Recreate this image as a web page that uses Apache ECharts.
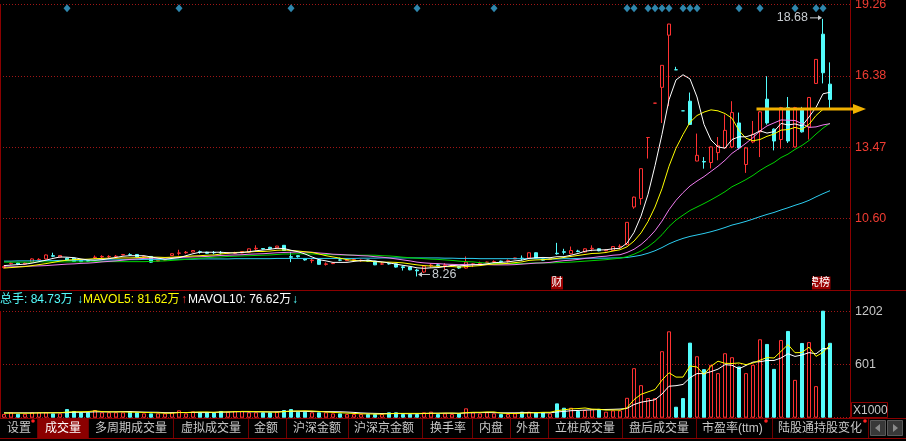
<!DOCTYPE html>
<html><head><meta charset="utf-8">
<script src="https://cdn.jsdelivr.net/npm/echarts@6/dist/echarts.min.js"></script>
<style>html,body{margin:0;padding:0;background:#000;}#c{width:906px;height:441px;}</style>
</head><body><div id="c"></div>
<script>
// ---------- data ----------
// [open, close, low, high]
const ohlc = [
[8.62,8.66,8.58,8.70],[8.78,8.80,8.74,8.84],[8.80,8.76,8.72,8.82],[8.76,8.80,8.74,8.84],[8.84,8.97,8.82,8.99],
[8.94,8.95,8.90,9.00],[8.97,9.13,8.95,9.15],[9.10,9.08,9.04,9.22],[9.04,9.11,9.03,9.12],[9.00,8.93,8.90,9.02],
[9.00,8.87,8.85,9.01],[8.91,8.86,8.84,8.93],[8.90,8.88,8.85,8.93],[9.02,9.04,8.97,9.11],[9.05,9.07,9.00,9.12],
[9.06,9.07,9.01,9.12],[9.06,9.08,9.02,9.13],[9.13,9.15,9.12,9.17],[9.14,9.13,9.10,9.20],[9.15,9.05,9.03,9.16],
[9.05,9.07,9.02,9.10],[9.07,8.84,8.82,9.08],[8.88,8.91,8.86,8.93],[8.92,8.95,8.90,8.97],[9.11,9.18,9.10,9.19],
[9.20,9.21,9.11,9.34],[9.22,9.24,9.18,9.29],[9.25,9.31,9.24,9.32],[9.26,9.25,9.18,9.31],[9.24,9.20,9.18,9.26],
[9.23,9.22,9.16,9.29],[9.23,9.21,9.16,9.29],[9.20,9.22,9.18,9.24],[9.20,9.22,9.17,9.26],[9.21,9.27,9.20,9.28],
[9.24,9.38,9.23,9.39],[9.38,9.40,9.31,9.52],[9.39,9.37,9.35,9.40],[9.44,9.38,9.36,9.46],[9.42,9.49,9.40,9.50],
[9.52,9.31,9.30,9.53],[9.06,9.04,8.84,9.25],[9.10,9.06,9.02,9.12],[8.98,8.93,8.90,9.00],[8.90,8.92,8.80,9.00],
[8.93,8.75,8.74,8.94],[8.75,8.77,8.70,8.83],[8.78,8.80,8.76,8.82],[8.93,8.92,8.88,9.02],[8.90,8.93,8.88,8.95],
[8.92,8.94,8.88,8.98],[8.90,8.92,8.85,8.95],[8.92,8.88,8.86,8.93],[8.88,8.73,8.72,8.89],[8.76,8.77,8.73,8.84],
[8.78,8.77,8.74,8.81],[8.77,8.64,8.62,8.78],[8.65,8.62,8.50,8.70],[8.64,8.53,8.51,8.65],[8.52,8.49,8.26,8.57],
[8.44,8.68,8.40,8.70],[8.70,8.72,8.62,8.78],[8.73,8.70,8.66,8.77],[8.70,8.72,8.53,8.80],[8.68,8.71,8.65,8.73],
[8.66,8.60,8.57,8.68],[8.60,8.84,8.58,9.07],[8.75,8.77,8.64,8.80],[8.78,8.80,8.74,8.86],[8.83,8.84,8.81,8.86],
[8.84,8.86,8.77,8.91],[8.88,8.86,8.84,8.90],[8.88,8.90,8.82,8.95],[8.97,9.01,8.96,9.02],[9.00,8.98,8.91,9.11],
[9.01,9.22,9.00,9.23],[9.22,9.01,9.00,9.23],[8.97,8.92,8.90,8.98],[8.95,8.97,8.93,9.00],[9.20,9.18,9.14,9.62],
[9.26,9.24,9.15,9.38],[9.18,9.31,9.16,9.47],[9.29,9.27,9.24,9.34],[9.25,9.38,9.23,9.40],[9.38,9.40,9.28,9.52],
[9.38,9.30,9.28,9.40],[9.30,9.33,9.28,9.36],[9.31,9.47,9.29,9.49],[9.46,9.48,9.39,9.56],[9.55,10.45,9.52,10.45],
[11.07,11.47,11.00,11.49],[11.41,12.62,11.16,12.62],[13.88,13.88,13.03,13.88],[15.27,15.27,15.27,15.27],[15.91,16.80,14.47,16.80],
[18.02,18.47,15.15,18.48],[16.62,16.62,16.62,16.74],[14.96,14.96,14.96,14.96],[15.35,14.41,14.40,15.70],[12.93,13.16,12.92,14.04],
[12.91,12.89,12.62,13.09],[12.87,13.50,12.63,13.51],[13.27,13.55,12.96,13.90],[13.46,14.17,13.46,14.81],[13.50,14.89,13.45,15.35],
[14.47,13.46,13.40,14.89],[12.79,13.46,12.45,13.50],[13.70,14.01,13.65,14.55],[14.11,14.92,13.09,14.95],[15.43,14.47,14.40,16.36],
[14.22,13.74,13.36,14.25],[13.80,15.09,13.43,15.12],[15.09,13.74,13.66,15.52],[13.50,15.09,13.48,15.12],[15.05,14.11,14.08,15.12],
[14.31,15.50,13.80,15.52],[16.07,17.04,16.05,17.05],[18.06,16.50,16.07,18.68],[16.04,15.42,15.05,16.92]
];
const volumes = [41,61,45,45,61,61,61,49,49,98,76,61,61,87,61,61,61,61,68,61,49,49,49,49,61,83,49,72,61,61,
61,76,68,76,76,61,61,61,61,68,87,98,68,68,61,61,61,49,49,41,41,41,41,41,41,61,61,41,41,41,
61,68,41,49,41,49,106,61,49,61,49,41,41,49,68,68,61,61,49,162,113,113,76,87,98,100,68,83,83,225,
560,368,222,222,752,977,124,222,849,695,549,598,504,729,684,579,504,598,887,834,552,879,981,428,845,855,357,1210,847];
const ma5 = [8.70,8.72,8.74,8.76,8.80,8.86,8.92,8.99,9.05,9.04,9.02,8.97,8.93,8.92,8.94,8.98,9.03,9.08,9.10,9.10,
9.10,9.05,9.00,8.96,8.99,9.02,9.10,9.18,9.24,9.24,9.24,9.24,9.22,9.21,9.23,9.26,9.30,9.33,9.36,9.40,
9.39,9.32,9.26,9.17,9.05,8.94,8.89,8.83,8.83,8.83,8.87,8.90,8.92,8.88,8.85,8.81,8.76,8.71,8.67,8.61,
8.59,8.61,8.62,8.66,8.71,8.69,8.71,8.73,8.74,8.77,8.82,8.83,8.85,8.89,8.92,8.99,9.02,9.03,9.02,9.06,
9.06,9.12,9.19,9.28,9.32,9.33,9.34,9.38,9.40,9.61,10.04,10.70,11.58,12.74,14.01,15.41,16.21,16.42,16.25,15.52,
14.41,13.78,13.50,13.45,13.80,13.91,13.91,14.00,14.15,14.06,14.12,14.45,14.39,14.43,14.35,14.71,15.10,15.65,15.71];
const ma10 = [8.60,8.62,8.64,8.66,8.70,8.74,8.78,8.83,8.88,8.92,8.94,8.95,8.96,8.98,8.99,9.00,9.00,9.01,9.01,9.02,
9.04,9.04,9.04,9.03,9.04,9.06,9.07,9.09,9.10,9.12,9.13,9.17,9.20,9.23,9.24,9.25,9.27,9.27,9.29,9.32,
9.33,9.31,9.29,9.26,9.23,9.17,9.10,9.05,9.00,8.94,8.91,8.89,8.88,8.86,8.84,8.84,8.83,8.81,8.77,8.73,
8.70,8.68,8.67,8.66,8.66,8.64,8.66,8.68,8.70,8.74,8.76,8.77,8.79,8.82,8.85,8.91,8.93,8.94,8.96,8.99,
9.03,9.07,9.11,9.15,9.19,9.20,9.23,9.29,9.34,9.46,9.69,10.02,10.48,11.07,11.81,12.72,13.45,14.00,14.50,14.77,
14.91,15.00,14.96,14.85,14.66,14.16,13.85,13.75,13.80,13.93,14.02,14.18,14.20,14.29,14.21,14.41,14.77,15.02,15.07];
const ma20 = [8.64,8.65,8.66,8.67,8.68,8.69,8.70,8.72,8.74,8.76,8.77,8.79,8.80,8.82,8.85,8.87,8.89,8.92,8.95,8.97,
8.99,9.00,9.00,9.01,9.02,9.03,9.04,9.05,9.06,9.07,9.09,9.11,9.12,9.13,9.14,9.16,9.17,9.18,9.20,9.22,
9.23,9.24,9.25,9.25,9.24,9.21,9.19,9.16,9.15,9.13,9.12,9.10,9.09,9.06,9.04,9.01,8.97,8.93,8.89,8.84,
8.81,8.79,8.78,8.76,8.75,8.74,8.75,8.75,8.74,8.74,8.73,8.73,8.73,8.74,8.76,8.78,8.80,8.81,8.83,8.87,
8.90,8.92,8.95,8.99,9.02,9.06,9.08,9.12,9.14,9.23,9.36,9.55,9.80,10.11,10.50,10.96,11.34,11.65,11.92,12.12,
12.30,12.51,12.72,12.96,13.24,13.44,13.65,13.88,14.15,14.35,14.47,14.59,14.58,14.57,14.44,14.29,14.31,14.39,14.44];
const ma30 = [8.84,8.84,8.84,8.84,8.84,8.85,8.85,8.85,8.85,8.85,8.85,8.85,8.85,8.86,8.86,8.86,8.86,8.86,8.86,8.86,
8.86,8.87,8.88,8.89,8.91,8.93,8.95,8.98,9.00,9.02,9.04,9.05,9.07,9.08,9.09,9.10,9.11,9.12,9.13,9.15,
9.17,9.17,9.18,9.17,9.17,9.16,9.15,9.14,9.13,9.13,9.12,9.12,9.12,9.12,9.10,9.09,9.07,9.04,9.02,9.00,
8.98,8.96,8.95,8.93,8.91,8.88,8.86,8.85,8.82,8.80,8.79,8.78,8.78,8.78,8.78,8.80,8.81,8.81,8.81,8.82,
8.83,8.84,8.86,8.88,8.90,8.92,8.94,8.97,9.00,9.06,9.16,9.29,9.46,9.68,9.95,10.28,10.54,10.74,10.93,11.07,
11.21,11.36,11.52,11.69,11.89,12.03,12.18,12.35,12.55,12.72,12.87,13.07,13.21,13.40,13.56,13.76,14.02,14.26,14.46];
const ma60 = [8.88,8.88,8.89,8.89,8.89,8.90,8.90,8.90,8.91,8.91,8.91,8.92,8.92,8.92,8.93,8.93,8.93,8.94,8.94,8.94,
8.95,8.95,8.95,8.95,8.96,8.96,8.96,8.96,8.97,8.97,8.97,8.97,8.97,8.98,8.98,8.98,8.98,8.98,8.98,8.99,
8.99,8.99,8.99,8.99,8.99,8.99,8.99,8.99,8.99,8.99,8.99,9.00,9.00,9.00,9.01,9.01,9.01,9.01,9.01,9.01,
9.01,9.01,9.01,9.00,9.00,8.99,8.99,8.99,8.98,8.98,8.98,8.98,8.98,8.98,8.98,8.98,8.98,8.97,8.97,8.97,
8.98,8.98,8.99,9.00,9.00,9.00,9.00,9.01,9.01,9.03,9.07,9.12,9.20,9.30,9.43,9.58,9.70,9.80,9.88,9.94,
10.00,10.07,10.15,10.24,10.34,10.41,10.49,10.58,10.68,10.77,10.85,10.95,11.04,11.14,11.23,11.34,11.48,11.61,11.73];
const mavol5 = [52,52,52,51,51,55,55,55,56,64,67,67,69,77,69,66,66,66,62,62,60,58,55,51,51,58,58,63,65,65,
61,66,65,68,71,71,68,67,64,62,68,75,76,78,76,71,64,60,56,52,48,44,43,41,41,45,49,49,49,49,
49,50,50,52,52,50,57,61,61,65,65,52,48,48,50,53,57,61,61,80,89,100,103,110,97,95,86,87,86,112,
204,264,292,319,425,508,459,459,585,573,488,583,639,615,613,619,600,619,650,680,675,750,827,735,737,798,693,739,823];
const mavol10 = [55,55,55,55,55,55,56,56,56,57,61,61,62,66,66,66,66,68,70,66,63,62,61,57,57,59,58,59,58,58,
60,62,64,67,68,66,67,66,66,67,70,72,72,71,69,69,69,68,67,64,60,54,51,49,47,47,47,46,45,45,
47,50,50,51,51,49,54,56,57,59,57,55,55,55,57,59,55,55,55,65,71,79,82,86,89,92,93,95,98,105,
149,175,189,203,268,356,362,376,452,499,498,521,549,600,593,553,591,629,633,647,647,675,723,693,709,736,722,783,779];
const priceTickLabels = ['10.60','13.47','16.38','19.26'];
const volTickLabels = ['601','1202'];
const signalIndices = [9,25,41,59,70,89,90,92,93,94,95,97,98,99,105,108,113,116,117];
const eventIndex = 79, eventText = '财';
const rankText = '虎榜';
const arrowLevel = 15.03, arrowFromIndex = 108;
const volTitle = [['总手: 84.73万','#54fcfc'],['↓','#54fcfc'],['MAVOL5: 81.62万','#ffff00'],['↑','#ff3232'],['MAVOL10: 76.62万','#ffffff'],['↓','#54fcfc']];
const tabNames = ['设置','成交量','多周期成交量','虚拟成交量','金额','沪深金额','沪深京金额','换手率','内盘','外盘','立桩成交量','盘后成交量','市盈率(ttm)','陆股通持股变化'];

// ---------- layout / style ----------
const RED = '#ff3232', CYAN = '#54fcfc', DRED = '#8b0000', DOT = '#a01616';
const FONT = '"Liberation Sans", "Noto Sans CJK SC", sans-serif';
const priceMin = 7.713, priceStep = 2.887, priceMax = 19.261;
const volStep = 601, volMax = 1202;
const categories = ohlc.map((_, i) => String(i + 1));
const dir = i => { const o = ohlc[i][0], c = ohlc[i][1]; if (c > o) return 1; if (c < o) return -1; return (i > 0 && ohlc[i-1][1] > c) ? -1 : 1; };
const volData = volumes.map((v, i) => dir(i) > 0
  ? { value: v, itemStyle: { color: '#000', borderColor: RED, borderWidth: 1 } }
  : { value: v, itemStyle: { color: CYAN, borderColor: CYAN, borderWidth: 1 } });
const nearestLabel = (arr, v) => { let best = '', d = 1e9; arr.forEach(s => { const dd = Math.abs(parseFloat(s) - v); if (dd < d) { d = dd; best = s; } }); return d < 0.5 ? best : ''; };
const maLine = (name, data, color, xi, yi, z) => ({ name, type: 'line', data, xAxisIndex: xi, yAxisIndex: yi, symbol: 'none', silent: true, z: z || 3,
  lineStyle: { width: 1, color }, itemStyle: { color } });

const chart = echarts.init(document.getElementById('c'));
chart.setOption({
  backgroundColor: '#000',
  animation: false,
  grid: [
    { left: 0, top: 4.5, width: 851, height: 285.5, outerBoundsMode: 'none', containLabel: false },
    { left: 0.5, top: 4.5, width: 833, height: 285.5, outerBoundsMode: 'none', containLabel: false },
    { left: 0, top: 311.4, width: 851, height: 106.3, outerBoundsMode: 'none', containLabel: false },
    { left: 0.5, top: 417.7 - 106.3 * 1.2, width: 833, height: 106.3 * 1.2, outerBoundsMode: 'none', containLabel: false }
  ],
  xAxis: [
    { gridIndex: 0, type: 'value', min: 0, max: 1, show: false },
    { gridIndex: 1, type: 'category', data: categories, boundaryGap: true, show: false },
    { gridIndex: 2, type: 'value', min: 0, max: 1, show: false },
    { gridIndex: 3, type: 'category', data: categories, boundaryGap: true, show: false }
  ],
  yAxis: [
    { gridIndex: 0, type: 'value', position: 'right', min: priceMin, max: priceMax, interval: priceStep,
      axisLine: { show: true, lineStyle: { color: DRED, width: 1 } }, axisTick: { show: false },
      splitLine: { show: true, lineStyle: { color: DOT, type: [1, 2], width: 1 } },
      axisLabel: { show: true, showMinLabel: false, margin: 4, color: '#f03c32', fontSize: 12.5, fontFamily: FONT,
        formatter: v => nearestLabel(priceTickLabels, v) } },
    { gridIndex: 1, type: 'value', min: priceMin, max: priceMax, show: false, splitLine: { show: false } },
    { gridIndex: 2, type: 'value', position: 'right', min: 0, max: volMax, interval: volStep,
      axisLine: { show: true, lineStyle: { color: DRED, width: 1 } }, axisTick: { show: false },
      splitLine: { show: true, lineStyle: { color: DOT, type: [1, 2], width: 1 } },
      axisLabel: { show: true, showMinLabel: false, margin: 4, color: '#c8c8c8', fontSize: 12.5, fontFamily: FONT,
        formatter: v => nearestLabel(volTickLabels, v) } },
    { gridIndex: 3, type: 'value', min: 0, max: volMax * 1.2, show: false, splitLine: { show: false } }
  ],
  series: [
    { type: 'candlestick', name: 'K', data: ohlc, xAxisIndex: 1, yAxisIndex: 1, barWidth: 4, z: 2, silent: true,
      itemStyle: { color: '#000', color0: CYAN, borderColor: RED, borderColor0: CYAN, borderWidth: 1 } },
    maLine('MA60', ma60, '#2ccdf0', 1, 1),
    maLine('MA30', ma30, '#00d400', 1, 1),
    maLine('MA20', ma20, '#f07cf0', 1, 1),
    maLine('MA10', ma10, '#ffff00', 1, 1),
    maLine('MA5', ma5, '#ffffff', 1, 1, 4),
    { type: 'scatter', name: 'signal', xAxisIndex: 1, yAxisIndex: 1, silent: true, z: 5,
      data: signalIndices.map(i => [i, 19.11]), symbol: 'diamond', symbolSize: [7, 8], itemStyle: { color: '#3aa8d8' } },
    { type: 'bar', name: 'VOL', data: volData, xAxisIndex: 3, yAxisIndex: 3, barWidth: 4, silent: true, z: 2 },
    maLine('MAVOL10', mavol10, '#ffffff', 3, 3),
    maLine('MAVOL5', mavol5, '#ffff00', 3, 3)
  ]
});

// ---------- overlays positioned through the chart's own scales ----------
const P = (i, v) => chart.convertToPixel({ gridIndex: 1 }, [i, v]);
const g = [];
const line = (x1, y1, x2, y2, stroke, w) => g.push({ type: 'line', z: 100, silent: true, shape: { x1, y1, x2, y2 }, style: { stroke, lineWidth: w || 1 } });
const text = (t, x, y, fill, size, align, extra) => g.push(Object.assign({ type: 'text', z: 101, silent: true,
  style: { text: t, x, y, fill, font: (size || 12) + 'px ' + FONT, textAlign: align || 'left', align: align || 'left', textVerticalAlign: 'middle', verticalAlign: 'middle' } }, extra || {}));

// frame lines
line(850.5, 0, 850.5, 418, DRED);
line(0, 290.5, 906, 290.5, DRED);

// highest / lowest annotations
let iMax = 0, iMin = 0;
ohlc.forEach((d, i) => { if (d[3] > ohlc[iMax][3]) iMax = i; if (d[2] < ohlc[iMin][2]) iMin = i; });
const pMax = P(iMax, ohlc[iMax][3]);
text(ohlc[iMax][3].toFixed(2), pMax[0] - 15, pMax[1] - 1, '#c8ccd0', 12.5, 'right');
line(pMax[0] - 13, pMax[1] - 1, pMax[0] - 3, pMax[1] - 1, '#c8ccd0');
g.push({ type: 'polygon', z: 101, silent: true, shape: { points: [[pMax[0] - 1, pMax[1] - 1], [pMax[0] - 5, pMax[1] - 3.5], [pMax[0] - 5, pMax[1] + 1.5]] }, style: { fill: '#c8ccd0' } });
const pMin = P(iMin, ohlc[iMin][2]);
line(pMin[0] + 4, pMin[1] - 2, pMin[0] + 13, pMin[1] - 2, '#c8ccd0');
g.push({ type: 'polygon', z: 101, silent: true, shape: { points: [[pMin[0] + 1, pMin[1] - 2], [pMin[0] + 5, pMin[1] - 4.5], [pMin[0] + 5, pMin[1] + 0.5]] }, style: { fill: '#c8ccd0' } });
text(ohlc[iMin][2].toFixed(2), pMin[0] + 15, pMin[1] - 2, '#c8ccd0', 12.5, 'left');

// horizontal gold arrow
const pa = P(arrowFromIndex, arrowLevel);
g.push({ type: 'line', z: 102, silent: true, shape: { x1: pa[0] - 3.5, y1: pa[1], x2: 856, y2: pa[1] }, style: { stroke: '#f0b000', lineWidth: 3 } });
g.push({ type: 'polygon', z: 102, silent: true, shape: { points: [[866, pa[1]], [853, pa[1] - 5], [853, pa[1] + 5]] }, style: { fill: '#f0b000' } });

// event boxes at panel bottom
const pe = P(eventIndex, priceMin);
g.push({ type: 'rect', z: 101, silent: true, shape: { x: pe[0] - 6, y: 276.5, width: 12, height: 13 }, style: { fill: '#9a0000' } });
text(eventText, pe[0], 283, '#ffffff', 11, 'center');
const pr = P(ohlc.length - 1, priceMin);
g.push({ type: 'rect', z: 101, silent: true, shape: { x: pr[0] - 18, y: 276.5, width: 18.5, height: 13 }, style: { fill: '#9a0000' } });
text(rankText, pr[0], 283, '#ffffff', 11, 'right');
g.push({ type: 'rect', z: 103, silent: true, shape: { x: pr[0] - 32, y: 276, width: 14, height: 14 }, style: { fill: '#000' } });

// volume panel title
let tx = 0;
const titleX = [0, 77, 83, 181, 188, 292];
volTitle.forEach((t, k) => text(t[0], titleX[k], 299.5, t[1], 12, 'left'));

// X1000 box
g.push({ type: 'rect', z: 101, silent: true, shape: { x: 851.5, y: 402.5, width: 36, height: 15 }, style: { fill: '#000', stroke: DRED, lineWidth: 1 } });
text('X1000', 853, 410.5, '#c8c8c8', 12, 'left');

// bottom tab bar
line(0, 418.5, 906, 418.5, DRED);
line(0, 438.5, 906, 438.5, DRED);
g.push({ type: 'rect', z: 100, silent: true, shape: { x: 38, y: 419, width: 50, height: 19 }, style: { fill: '#8b0000' } });
const tabX = [7, 45, 95, 181, 254, 293, 354, 430, 479, 516, 555, 629, 702, 778];
const sepX = [37.5, 88.5, 173.5, 248.5, 286.5, 348.5, 422.5, 472.5, 510.5, 548.5, 622.5, 696.5, 772.5, 868.5];
sepX.forEach(x => line(x, 419, x, 438, '#700000'));
tabNames.forEach((t, k) => text(t, tabX[k], 428.5, k === 1 ? '#ffffff' : '#c8c8c8', 12, 'left'));
[[33, 421], [766, 421], [865, 421]].forEach(p => g.push({ type: 'circle', z: 102, silent: true, shape: { cx: p[0], cy: p[1], r: 1.8 }, style: { fill: '#ff2020' } }));
[[870.5, 'l'], [887.5, 'r']].forEach(b => {
  g.push({ type: 'rect', z: 101, silent: true, shape: { x: b[0], y: 420.5, width: 15, height: 15 }, style: { fill: '#383838', stroke: '#5a5a5a', lineWidth: 1 } });
  const cx = b[0] + 7.5, cy = 428;
  const pts = b[1] === 'l' ? [[cx - 3, cy], [cx + 2, cy - 4], [cx + 2, cy + 4]] : [[cx + 3, cy], [cx - 2, cy - 4], [cx - 2, cy + 4]];
  g.push({ type: 'polygon', z: 102, silent: true, shape: { points: pts }, style: { fill: '#8a8a8a' } });
});

chart.setOption({ graphic: { elements: g } });
</script>
</body></html>
